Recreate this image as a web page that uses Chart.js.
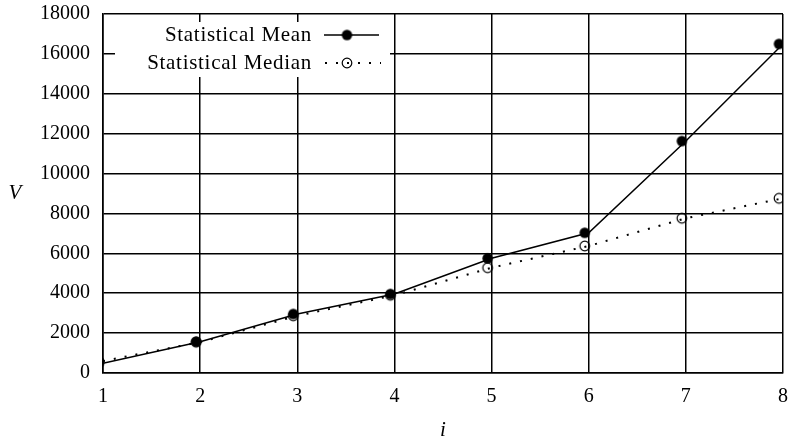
<!DOCTYPE html>
<html>
<head>
<meta charset="utf-8">
<script src="https://cdn.jsdelivr.net/npm/chart.js@4/dist/chart.umd.min.js"></script>
<style>
  html, body { margin: 0; padding: 0; background: #fff; }
  #wrap { width: 793px; height: 441px; }
</style>
</head>
<body>
<div id="wrap"><canvas id="c" width="793" height="441"></canvas></div>
<script>
// Index values along the horizontal axis
const iValues = [1, 2, 3, 4, 5, 6, 7, 8];
// Statistical mean of V for each i
const meanV = [490, 1570, 2960, 3960, 5750, 7030, 11630, 16500];
// Statistical median of V for each i
const medianV = [600, 1550, 2870, 3900, 5280, 6370, 7760, 8760];
// Series names
const seriesNames = ['Statistical Mean', 'Statistical Median'];

const FONT = '"Liberation Serif", "Times New Roman", serif';

// Circle marker drawn on a small canvas, nudged a little to the left of the data point
function makeMarker(filled, r, dx) {
  const pad = 2;
  const w = Math.ceil(2 * (r + Math.abs(dx)) + 2 * pad);
  const h = Math.ceil(2 * r + 2 * pad);
  const cv = document.createElement('canvas');
  cv.width = w; cv.height = h;
  const g = cv.getContext('2d');
  g.beginPath();
  g.arc(w / 2 + dx, h / 2, r, 0, Math.PI * 2);
  if (filled) {
    g.fillStyle = '#000';
    g.fill();
  } else {
    g.lineWidth = 1.2;
    g.strokeStyle = '#000';
    g.stroke();
  }
  return cv;
}

const filledMarker = makeMarker(true, 5.2, -4);
const openMarker = makeMarker(false, 4.8, -4);
const filledLegend = makeMarker(true, 5.2, 0);
const openLegend = makeMarker(false, 4.8, 0);

const toPoints = (vals) => vals.map((v, k) => ({ x: iValues[k], y: v }));

// Keep the plot area exactly where the layout padding puts it
function noLabelOverhang(scale) {
  scale.paddingTop = 0;
  scale.paddingBottom = 0;
  scale.paddingLeft = 0;
  scale.paddingRight = 0;
}

// Legend box, legend samples and axis titles
const decorations = {
  id: 'decorations',
  afterDatasetsDraw(chart) {
    const ctx = chart.ctx;
    ctx.save();
    // legend background
    ctx.fillStyle = '#fff';
    ctx.fillRect(115, 22, 275, 55);
    ctx.fillStyle = '#000';
    ctx.font = '21px ' + FONT;
    if ('letterSpacing' in ctx) ctx.letterSpacing = '0.7px';
    ctx.textAlign = 'right';
    ctx.textBaseline = 'middle';
    const rows = [35, 63];
    ctx.fillText(seriesNames[0], 312, rows[0]);
    ctx.fillText(seriesNames[1], 312, rows[1]);
    if ('letterSpacing' in ctx) ctx.letterSpacing = '0px';
    // mean sample
    ctx.strokeStyle = '#000';
    ctx.lineWidth = 1.5;
    ctx.beginPath();
    ctx.moveTo(324, rows[0]);
    ctx.lineTo(379, rows[0]);
    ctx.stroke();
    ctx.drawImage(filledLegend, 347 - filledLegend.width / 2, rows[0] - filledLegend.height / 2);
    // median sample
    ctx.setLineDash([2, 9]);
    ctx.lineWidth = 2;
    ctx.beginPath();
    ctx.moveTo(325, rows[1]);
    ctx.lineTo(381, rows[1]);
    ctx.stroke();
    ctx.setLineDash([]);
    ctx.drawImage(openLegend, 347 - openLegend.width / 2, rows[1] - openLegend.height / 2);
    // axis titles
    ctx.font = 'italic 21px ' + FONT;
    ctx.textAlign = 'center';
    ctx.fillText('V', 15, 193);
    ctx.fillText('i', 443, 430);
    ctx.restore();
  }
};

new Chart(document.getElementById('c'), {
  type: 'line',
  data: {
    datasets: [
      {
        label: seriesNames[0],
        data: toPoints(meanV),
        borderColor: '#000',
        borderWidth: 1.5,
        pointStyle: filledMarker,
        pointRadius: 5,
        pointHoverRadius: 5,
        fill: false,
        tension: 0
      },
      {
        label: seriesNames[1],
        data: toPoints(medianV),
        borderColor: '#000',
        borderWidth: 2,
        borderDash: [2, 9],
        pointStyle: openMarker,
        pointRadius: 5,
        pointHoverRadius: 5,
        fill: false,
        tension: 0
      }
    ]
  },
  options: {
    responsive: false,
    animation: false,
    devicePixelRatio: 1,
    layout: { padding: { top: 14, right: 10, left: 0, bottom: 0 } },
    plugins: {
      legend: { display: false },
      tooltip: { enabled: false }
    },
    scales: {
      x: {
        type: 'linear',
        min: 1,
        max: 8,
        afterFit(scale) { scale.height = 68; noLabelOverhang(scale); },
        ticks: {
          stepSize: 1,
          color: '#000',
          padding: 12,
          maxRotation: 0,
          font: { family: FONT, size: 20 },
          callback: (v) => String(v)
        },
        grid: { color: '#000', lineWidth: 1.5, drawTicks: false },
        border: { color: '#000', width: 1.6 }
      },
      y: {
        min: 0,
        max: 18000,
        afterFit(scale) { scale.width = 103; noLabelOverhang(scale); },
        ticks: {
          stepSize: 2000,
          color: '#000',
          padding: 13,
          font: { family: FONT, size: 20 },
          callback: (v) => String(v)
        },
        grid: { color: '#000', lineWidth: 1.5, drawTicks: false },
        border: { color: '#000', width: 1.6 }
      }
    }
  },
  plugins: [decorations]
});
</script>
</body>
</html>
